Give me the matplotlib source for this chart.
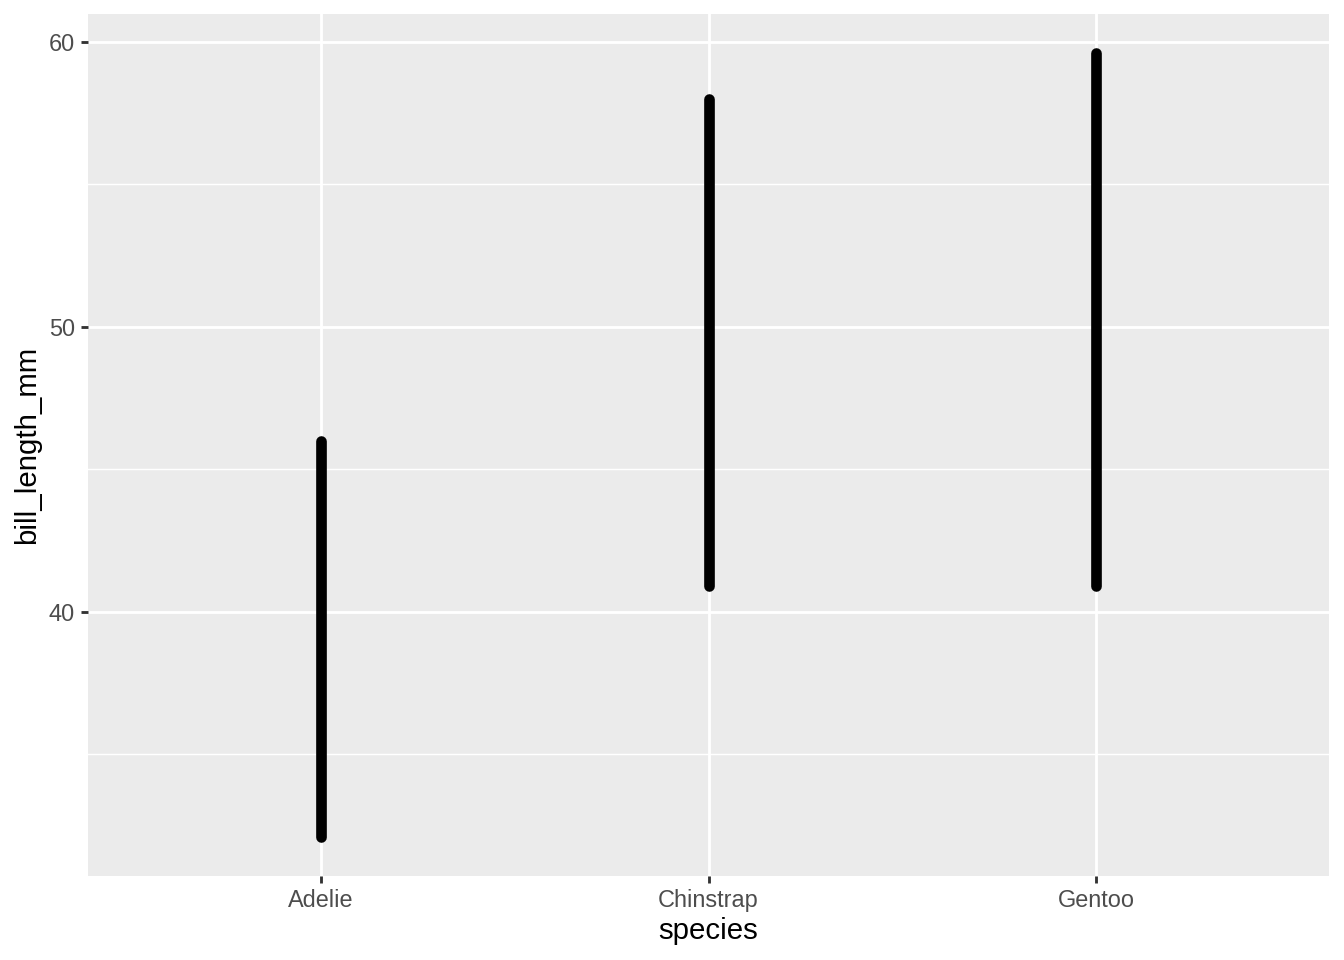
import numpy as np
import matplotlib
matplotlib.use('Agg')
import matplotlib.pyplot as plt

species = ['Adelie', 'Chinstrap', 'Gentoo']
bill_min = [32.1, 40.9, 40.9]
bill_max = [46.0, 58.0, 59.6]
y_ticks = [40, 50, 60]
y_minor = [35, 45, 55]

plt.rcParams['font.family'] = ['Liberation Sans', 'DejaVu Sans']

fig = plt.figure(figsize=(7, 5), dpi=192)
ax = fig.add_axes([88 / 1344, 1 - 876 / 960, (1329 - 88) / 1344, (876 - 14) / 960])
ax.set_facecolor('#EBEBEB')
for s in ax.spines.values():
    s.set_visible(False)

x = np.arange(len(species))
for xi in x:
    ax.axvline(xi, color='white', lw=1.07, zorder=1)
for yt in y_ticks:
    ax.axhline(yt, color='white', lw=1.07, zorder=1)
for ym in y_minor:
    ax.axhline(ym, color='white', lw=0.53, zorder=1)

for xi, lo, hi in zip(x, bill_min, bill_max):
    ax.plot([xi, xi], [lo, hi], color='black', lw=4.0, solid_capstyle='round', zorder=3)

lo_all, hi_all = min(bill_min), max(bill_max)
pad = (hi_all - lo_all) * 0.05
ax.set_ylim(lo_all - pad, hi_all + pad)
ax.set_xlim(-0.6, len(species) - 0.4)

ax.set_xticks(x)
ax.set_xticklabels(species)
ax.set_yticks(y_ticks)
ax.tick_params(axis='both', length=2.75, width=1.07, color='#333333',
               labelsize=8.8, labelcolor='#4D4D4D', pad=2.2)
ax.set_xlabel('species', fontsize=11, color='black', labelpad=1.8)
ax.set_ylabel('bill_length_mm', fontsize=11, color='black', labelpad=2.75)

fig.savefig('out.png', dpi=192, facecolor='white')
